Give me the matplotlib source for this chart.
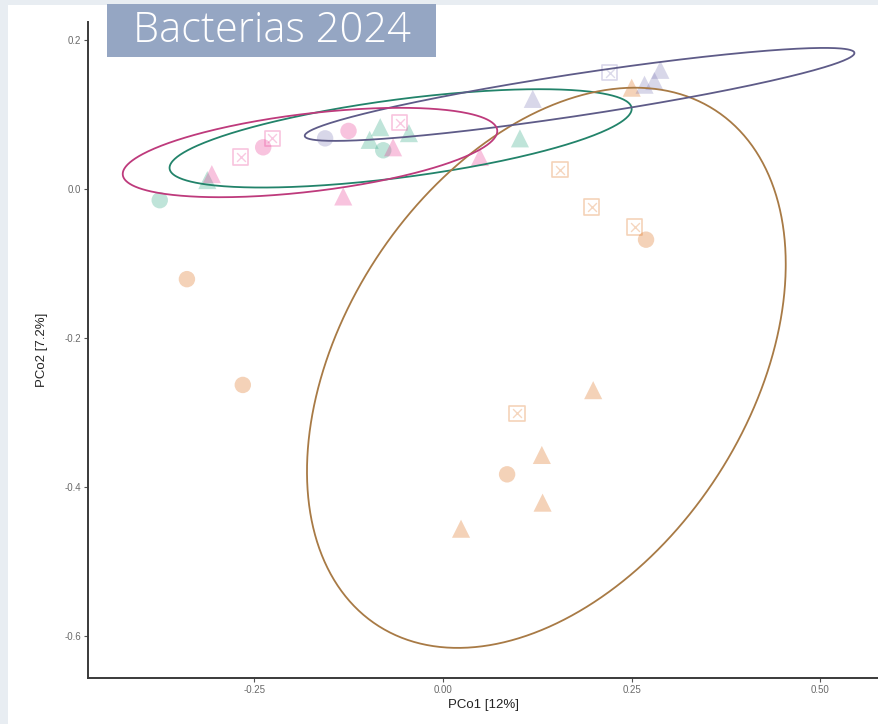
import numpy as np
import matplotlib
matplotlib.use("Agg")
import matplotlib.pyplot as plt
from matplotlib.patches import Rectangle

# ---------------- data ----------------
groups = ["A", "B", "C", "D"]
group_colors = {"A": "#1B9E77", "B": "#D95F02", "C": "#7570B3", "D": "#E7298A"}
ellipse_colors = {"A": "#22836A", "B": "#A87A45", "C": "#5E5B88", "D": "#BE3A7C"}

# points: x (PCo1), y (PCo2), group, shape
pts_x = [-0.375, -0.312, -0.097, -0.083, -0.079, -0.045, 0.102,
         -0.339, -0.265, 0.269, 0.085, 0.199, 0.131, 0.132, 0.024, 0.098, 0.254, 0.197, 0.155, 0.250,
         -0.156, 0.119, 0.221, 0.267, 0.280, 0.288,
         -0.306, -0.268, -0.238, -0.226, -0.125, -0.066, -0.057, -0.132, 0.049]
pts_y = [-0.015, 0.012, 0.066, 0.083, 0.052, 0.075, 0.068,
         -0.121, -0.263, -0.068, -0.383, -0.270, -0.357, -0.421, -0.456, -0.301, -0.051, -0.024, 0.026, 0.136,
         0.068, 0.121, 0.156, 0.140, 0.145, 0.160,
         0.020, 0.043, 0.056, 0.068, 0.078, 0.056, 0.089, -0.010, 0.043]
pts_group = ["A"] * 7 + ["B"] * 13 + ["C"] * 6 + ["D"] * 9
pts_shape = ["circle", "triangle", "triangle", "triangle", "circle", "triangle", "triangle",
             "circle", "circle", "circle", "circle", "triangle", "triangle", "triangle", "triangle",
             "square", "square", "square", "square", "triangle",
             "circle", "triangle", "square", "triangle", "triangle", "triangle",
             "triangle", "square", "circle", "square", "circle", "triangle", "square", "triangle", "triangle"]

# ellipses: centre, half-extent in x and y, correlation
ell_group = ["A", "B", "C", "D"]
ell_cx = [-0.056, 0.137, 0.181, -0.176]
ell_cy = [0.068, -0.240, 0.127, 0.049]
ell_sx = [0.306, 0.317, 0.364, 0.248]
ell_sy = [0.066, 0.376, 0.0624, 0.060]
ell_r = [0.60, 0.37, 0.89, 0.48]

x_ticks = [-0.25, 0.00, 0.25, 0.50]
x_ticklabels = ["-0.25", "0.00", "0.25", "0.50"]
y_ticks = [0.2, 0.0, -0.2, -0.4, -0.6]
y_ticklabels = ["0.2", "0.0", "-0.2", "-0.4", "-0.6"]
x_title = "PCo1 [12%]"
y_title = "PCo2 [7.2%]"
title = "Bacterias 2024"

# ---------------- figure ----------------
W, H = 879, 724
fig = plt.figure(figsize=(W / 100, H / 100), dpi=100)
fig.patch.set_facecolor("#E8EDF2")
# white slide area
fig.patches.append(Rectangle((8 / W, 0), 1 - 8 / W, 1 - 5 / H, transform=fig.transFigure,
                             facecolor="white", edgecolor="none", zorder=-5))

ax_l, ax_r = 88 / W, 1.0
ax_b, ax_t = 1 - 678 / H, 1 - 22 / H
ax = fig.add_axes([ax_l, ax_b, ax_r - ax_l, ax_t - ax_b])
ax.set_zorder(1)
ax.set_facecolor("none")
ax.set_xlim(-0.470, 0.5775)
ax.set_ylim(-0.6564, 0.2242)

marker_map = {"circle": "o", "triangle": "^", "square": "s"}
px = np.array(pts_x)
py = np.array(pts_y)
for g in groups:
    for shp in ["circle", "triangle", "square"]:
        idx = [i for i in range(len(px)) if pts_group[i] == g and pts_shape[i] == shp]
        if not idx:
            continue
        col = group_colors[g]
        if shp == "square":
            ax.scatter(px[idx], py[idx], s=120, marker="s", facecolors="none",
                       edgecolors=col, linewidths=1.2, alpha=0.28, zorder=2)
            ax.scatter(px[idx], py[idx], s=40, marker="x", c=col, linewidths=1.0,
                       alpha=0.25, zorder=2)
        else:
            size = 140 if shp == "circle" else 170
            ax.scatter(px[idx], py[idx], s=size, marker=marker_map[shp], c=col,
                       edgecolors="none", alpha=0.28, zorder=2)

t = np.linspace(0, 2 * np.pi, 400)
for g, cx, cy, sx, sy, r in zip(ell_group, ell_cx, ell_cy, ell_sx, ell_sy, ell_r):
    ex = cx + sx * np.cos(t)
    ey = cy + sy * (r * np.cos(t) + np.sqrt(1 - r * r) * np.sin(t))
    ax.plot(ex, ey, color=ellipse_colors[g], lw=1.3, zorder=3,
            solid_joinstyle="round", solid_capstyle="butt")

for s in ["top", "right"]:
    ax.spines[s].set_visible(False)
for s in ["left", "bottom"]:
    ax.spines[s].set_color("#3a3a3a")
    ax.spines[s].set_linewidth(1.4)

ax.set_xticks(x_ticks)
ax.set_xticklabels(x_ticklabels)
ax.set_yticks(y_ticks)
ax.set_yticklabels(y_ticklabels)
ax.tick_params(direction="out", length=3, width=0.8, color="#555555",
               labelcolor="#6a6a6a", labelsize=7, pad=2)
for lab in ax.get_xticklabels() + ax.get_yticklabels():
    lab.set_family("Liberation Sans")

ax.set_xlabel(x_title, fontsize=9.5, family="Liberation Sans", color="#222222", labelpad=3)
ax.set_ylabel(y_title, fontsize=9.5, family="Liberation Sans", color="#222222", labelpad=12)

# title box
fig.patches.append(Rectangle((107 / W, 1 - 57 / H), (436 - 107) / W, (57 - 4) / H,
                             transform=fig.transFigure, facecolor="#95A6C3",
                             edgecolor="none", zorder=5))
fig.text(272 / W, 1 - 31 / H, title, color="white", fontsize=30, family="Open Sans",
         fontweight="light", ha="center", va="center", zorder=6)

fig.savefig("out.png", dpi=100, facecolor=fig.get_facecolor())
